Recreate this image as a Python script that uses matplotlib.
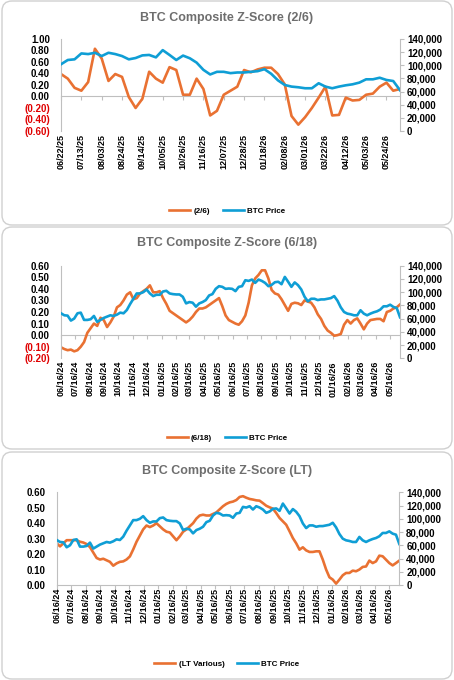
import numpy as np
import pandas as pd
import matplotlib
matplotlib.use("Agg")
import matplotlib.pyplot as plt
import matplotlib.dates as mdates
from matplotlib.patches import FancyBboxPatch

plt.rcParams['font.family'] = ['Liberation Sans', 'DejaVu Sans']
plt.rcParams['font.weight'] = 'bold'

ORANGE = '#E97132'
BLUE = '#0F9ED5'
AXIS_C = '#BFBFBF'
TITLE_C = '#6E6E6E'
NEG_C = '#E00000'

# weekly BTC price in thousands, starting 06/16/24
btc_price = [68, 65, 64.5, 57, 60, 68, 69, 58, 58, 59,
             64, 55, 58, 61, 63, 65, 64, 66, 69, 68,
             73, 82, 90, 98, 98, 100, 104, 98, 94, 96,
             96, 101, 102, 98, 97, 96.5, 96.5, 93, 83, 85,
             84, 78, 83, 85, 88, 95, 97, 105, 109, 108,
             105, 105.5, 105, 101.5, 108, 109, 118, 117, 119, 114,
             119, 117, 114, 109, 111, 115, 115.7, 112, 123, 115.7,
             108, 114.7, 110.6, 104, 93, 86, 90, 90, 88, 89,
             89, 90, 91, 94, 87, 77, 70, 67.5, 66.5, 65,
             65, 72.6, 67.5, 65, 67.5, 69.5, 71, 73.6, 78.6, 78.6,
             81, 77.6, 76, 62]

# (2/6) z-score, weekly from 06/22/25
z_2_6 = [0.39, 0.31, 0.15, 0.10, 0.25, 0.83, 0.66, 0.27, 0.39, 0.34,
         -0.01, -0.20, -0.04, 0.43, 0.31, 0.24, 0.51, 0.46, 0.03, 0.03,
         0.31, 0.13, -0.33, -0.25, 0.03, 0.10, 0.17, 0.46, 0.42, 0.47,
         0.50, 0.50, 0.39, 0.21, -0.34, -0.49, -0.36, -0.20, -0.02, 0.17,
         -0.33, -0.32, -0.02, -0.07, -0.06, 0.03, 0.05, 0.17, 0.24, 0.10,
         0.13]

# (6/18) z-score, weekly from 06/16/24
z_6_18 = [-0.105, -0.12, -0.13, -0.125, -0.14, -0.13, -0.10, -0.06, 0.02, 0.06,
          0.10, 0.08, 0.15, 0.13, 0.07, 0.11, 0.16, 0.24, 0.26, 0.30,
          0.35, 0.37, 0.31, 0.32, 0.36, 0.38, 0.40, 0.43, 0.37, 0.37,
          0.38, 0.32, 0.27, 0.21, 0.19, 0.17, 0.15, 0.13, 0.11, 0.13,
          0.16, 0.20, 0.23, 0.23, 0.24, 0.26, 0.28, 0.30, 0.32, 0.25,
          0.17, 0.13, 0.115, 0.10, 0.09, 0.12, 0.17, 0.28, 0.43, 0.49,
          0.52, 0.56, 0.56, 0.49, 0.39, 0.36, 0.35, 0.31, 0.26, 0.21,
          0.27, 0.28, 0.275, 0.26, 0.30, 0.29, 0.28, 0.24, 0.18, 0.14,
          0.08, 0.04, 0.02, -0.005, 0.0, 0.01, 0.09, 0.13, 0.10, 0.13,
          0.145, 0.10, 0.05, 0.10, 0.13, 0.135, 0.14, 0.14, 0.12, 0.20,
          0.21, 0.23, 0.24, 0.265]

# (LT Various) z-score, weekly from 06/16/24
z_lt = [0.27, 0.25, 0.27, 0.29, 0.29, 0.29, 0.29, 0.28, 0.275, 0.265,
        0.245, 0.21, 0.175, 0.165, 0.17, 0.16, 0.15, 0.125, 0.14, 0.15,
        0.153, 0.165, 0.185, 0.23, 0.28, 0.32, 0.36, 0.385, 0.375, 0.385,
        0.40, 0.38, 0.36, 0.345, 0.34, 0.315, 0.29, 0.315, 0.345, 0.36,
        0.38, 0.40, 0.43, 0.45, 0.455, 0.45, 0.45, 0.46, 0.47, 0.49,
        0.51, 0.525, 0.535, 0.54, 0.55, 0.57, 0.575, 0.565, 0.557, 0.553,
        0.548, 0.546, 0.53, 0.513, 0.503, 0.494, 0.466, 0.434, 0.412, 0.39,
        0.348, 0.304, 0.27, 0.229, 0.244, 0.224, 0.214, 0.214, 0.218, 0.218,
        0.164, 0.10, 0.05, 0.035, 0.009, 0.035, 0.063, 0.078, 0.078, 0.093,
        0.089, 0.10, 0.117, 0.12, 0.158, 0.142, 0.153, 0.19, 0.186, 0.164,
        0.142, 0.127, 0.142, 0.158]

weeks_all = pd.date_range('2024-06-16', periods=len(btc_price), freq='7D')
weeks_26 = pd.date_range('2025-06-22', periods=len(z_2_6), freq='7D')
ticks_26 = pd.date_range('2025-06-22', '2026-05-24', freq='21D')
ticks_month = [pd.Timestamp('2024-06-16') + pd.DateOffset(months=k) for k in range(24)]
price_ticks = list(range(0, 140001, 20000))


def zfmt(v):
    if v < 0:
        return '({:.2f})'.format(-v)
    return '{:.2f}'.format(v)


fig = plt.figure(figsize=(4.54, 6.80), dpi=100)

# panel cards (in inches)
for y0, y1 in [(4.55, 6.79), (2.31, 4.53), (0.01, 2.28)]:
    card = FancyBboxPatch((0.02, y0), 4.50, y1 - y0,
                          boxstyle='round,pad=0,rounding_size=0.1',
                          transform=fig.dpi_scale_trans, facecolor='white',
                          edgecolor='#D0D0D0', lw=1.0, zorder=-5)
    fig.add_artist(card)


def panel(rect, title, title_y, legend_y, dates, z, price, zticks, xticks, zname):
    ax = fig.add_axes(rect)
    ax.patch.set_visible(False)
    x = mdates.date2num(dates)
    l1, = ax.plot(x, z, color=ORANGE, lw=1.9, label=zname)
    ax2 = ax.twinx()
    l2, = ax2.plot(x, np.array(price) * 1000, color=BLUE, lw=1.9, label='BTC Price')

    ax.set_xlim(x[0], x[-1])
    ax.set_ylim(zticks[0], zticks[-1])
    ax.set_yticks(zticks)
    ax.set_yticklabels([zfmt(v) for v in zticks])
    for lab, v in zip(ax.get_yticklabels(), zticks):
        if v < -1e-9:
            lab.set_color(NEG_C)
    ax.tick_params(axis='y', length=0, pad=8, labelsize=7.0)

    xt = mdates.date2num(xticks)
    ax.set_xticks(xt)
    ax.set_xticklabels([d.strftime('%m/%d/%y') for d in xticks], rotation=90)
    ax.tick_params(axis='x', length=0, pad=2, labelsize=6.5)

    ax2.set_ylim(0, 140000)
    ax2.set_yticks(price_ticks)
    ax2.set_yticklabels(['{:,}'.format(v) for v in price_ticks])
    ax2.tick_params(axis='y', length=3, color=AXIS_C, pad=2, labelsize=7.0)

    for s in ['top', 'bottom', 'right']:
        ax.spines[s].set_visible(False)
    ax.spines['left'].set_color(AXIS_C)
    for s in ['top', 'bottom', 'left']:
        ax2.spines[s].set_visible(False)
    ax2.spines['right'].set_color(AXIS_C)

    # horizontal axis line at zero with tick marks
    frac = (0 - zticks[0]) / (zticks[-1] - zticks[0])
    sec = ax.secondary_xaxis(frac)
    sec.set_xticks(xt)
    sec.tick_params(direction='out', length=3, color=AXIS_C, labelbottom=False)
    sec.spines['bottom'].set_color(AXIS_C)

    fig.text(0.5, title_y, title, ha='center', va='center', fontsize=9,
             fontweight='bold', color=TITLE_C)
    fig.legend([l1, l2], [zname, 'BTC Price'], loc='center',
               bbox_to_anchor=(0.5, legend_y), ncol=2, frameon=False,
               prop={'size': 5.8, 'weight': 'bold'}, handlelength=2.6,
               columnspacing=1.6, handletextpad=0.4)


panel([0.1344, 0.8074, 0.7467, 0.1353], 'BTC Composite Z-Score (2/6)', 0.9735, 0.6897,
      weeks_26, z_2_6, btc_price[53:], [-0.6, -0.4, -0.2, 0.0, 0.2, 0.4, 0.6, 0.8, 1.0],
      ticks_26, '(2/6)')
panel([0.1344, 0.4731, 0.7467, 0.1362], 'BTC Composite Z-Score (6/18)', 0.6426, 0.3563,
      weeks_all, z_6_18, btc_price, [-0.2, -0.1, 0.0, 0.1, 0.2, 0.3, 0.4, 0.5, 0.6],
      ticks_month, '(6/18)')
panel([0.1249, 0.1397, 0.7546, 0.1363], 'BTC Composite Z-Score (LT)', 0.3078, 0.0235,
      weeks_all, z_lt, btc_price, [0.0, 0.1, 0.2, 0.3, 0.4, 0.5, 0.6],
      ticks_month, '(LT Various)')

fig.savefig('out.png', dpi=100)
